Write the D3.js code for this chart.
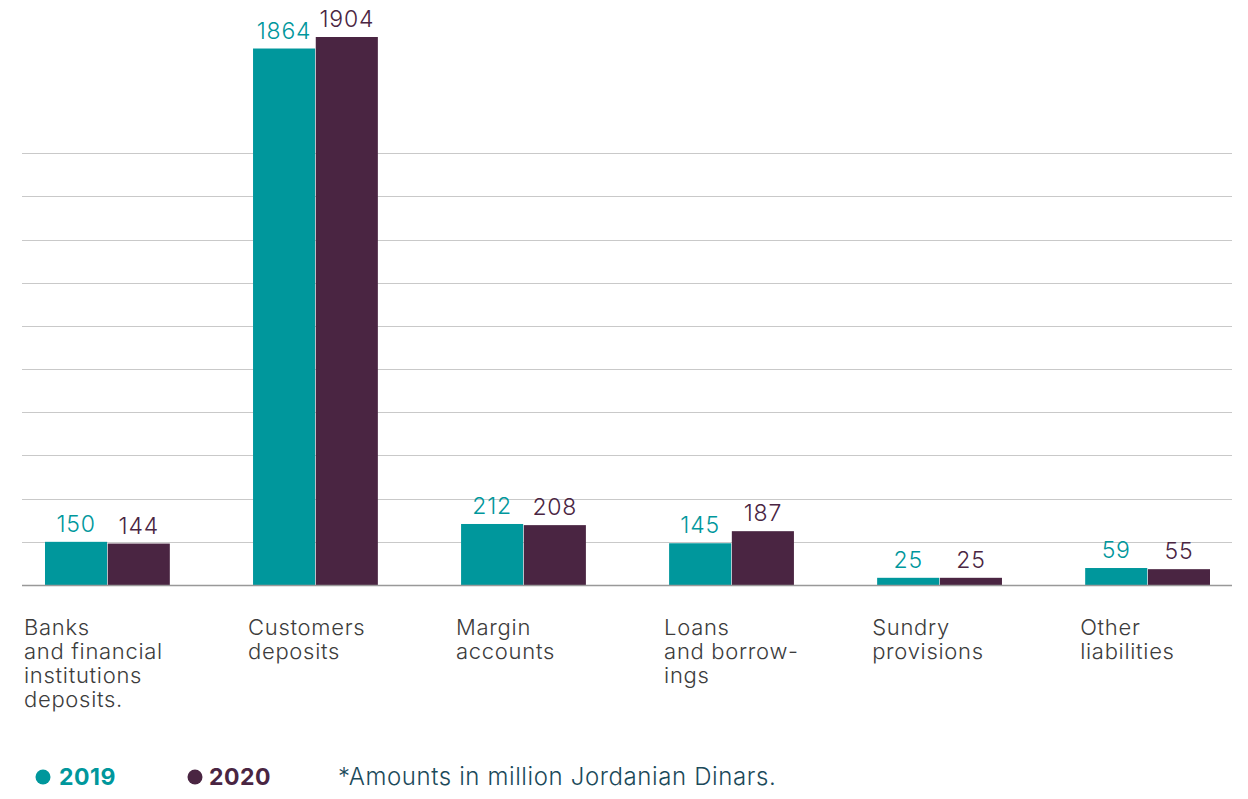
<!DOCTYPE html>
<html>
<head>
<meta charset="utf-8">
<script src="https://cdn.jsdelivr.net/npm/d3@7"></script>
<style>
  html, body { margin: 0; padding: 0; background: #fff; }
  svg { display: block; font-family: Inter, "Noto Sans", sans-serif; }
</style>
</head>
<body>
<svg id="chart" width="1248" height="799"></svg>
<script>
// Liabilities by category, million JOD
const categories = [
  ["Banks", "and financial", "institutions", "deposits."],
  ["Customers", "deposits"],
  ["Margin", "accounts"],
  ["Loans", "and borrow-", "ings"],
  ["Sundry", "provisions"],
  ["Other", "liabilities"]
];
const values2019 = [150, 1864, 212, 145, 25, 59];
const values2020 = [144, 1904, 208, 187, 25, 55];
const seriesNames = ["2019", "2020"];
const gridValues = [150, 300, 450, 600, 750, 900, 1050, 1200, 1350, 1500];
const footnote = "*Amounts in million Jordanian Dinars.";

const colors = { "2019": "#00979c", "2020": "#4a2542" };
const labelColor = "#3c3c3c";
const noteColor = "#1c4a5a";

const svg = d3.select("#chart");
const plotLeft = 22, plotRight = 1232;
const baseY = 585, topY = 37;

const idx = d3.range(categories.length);
const x0 = d3.scaleBand().domain(idx).range([45, 1210]).paddingInner(0.4).paddingOuter(0);
const x1 = d3.scaleBand().domain(seriesNames).range([0, x0.bandwidth()]).paddingInner(0.01);
const y = d3.scaleLinear()
  .domain([0, d3.max(values2020.concat(values2019))])
  .range([baseY, topY]);

// gridlines
svg.append("g")
  .selectAll("line")
  .data(gridValues)
  .join("line")
  .attr("x1", plotLeft).attr("x2", plotRight)
  .attr("y1", d => Math.round(y(d)) + 0.5).attr("y2", d => Math.round(y(d)) + 0.5)
  .attr("stroke", "#c9c9c9").attr("stroke-width", 1);

const rows = idx.map(i => ({ i, vals: [
  { key: "2019", v: values2019[i] },
  { key: "2020", v: values2020[i] }
]}));

const groups = svg.append("g")
  .selectAll("g")
  .data(rows)
  .join("g")
  .attr("transform", d => `translate(${x0(d.i)},0)`);

groups.selectAll("rect")
  .data(d => d.vals)
  .join("rect")
  .attr("x", d => x1(d.key))
  .attr("width", x1.bandwidth())
  .attr("y", d => y(d.v))
  .attr("height", d => baseY - y(d.v))
  .attr("fill", d => colors[d.key]);

groups.selectAll("text.val")
  .data(d => d.vals)
  .join("text")
  .attr("class", "val")
  .attr("x", d => x1(d.key) + x1.bandwidth() / 2)
  .attr("y", d => y(d.v) - 10)
  .attr("text-anchor", "middle")
  .attr("font-size", 23)
  .attr("font-weight", 300)
  .attr("letter-spacing", 0.8)
  .attr("fill", d => colors[d.key])
  .text(d => d.v);

// baseline
svg.append("line")
  .attr("x1", plotLeft).attr("x2", plotRight)
  .attr("y1", baseY + 0.5).attr("y2", baseY + 0.5)
  .attr("stroke", "#999").attr("stroke-width", 1.6);

// category labels
const labelX = i => i === 0 ? plotLeft + 2 : x0(i) - 5;
svg.append("g")
  .selectAll("text")
  .data(rows)
  .join("text")
  .attr("x", d => labelX(d.i))
  .attr("y", 635)
  .attr("font-size", 22)
  .attr("font-weight", 300)
  .attr("letter-spacing", 0.7)
  .attr("fill", labelColor)
  .selectAll("tspan")
  .data(d => categories[d.i].map(line => ({ line, x: labelX(d.i) })))
  .join("tspan")
  .attr("x", d => d.x)
  .attr("dy", (d, k) => k === 0 ? 0 : 24)
  .text(d => d.line);

// legend
const legend = svg.append("g");
const legendItems = [
  { key: "2019", cx: 43, tx: 59 },
  { key: "2020", cx: 195, tx: 209 }
];
legend.selectAll("circle")
  .data(legendItems)
  .join("circle")
  .attr("cx", d => d.cx).attr("cy", 777).attr("r", 7.5)
  .attr("fill", d => colors[d.key]);
legend.selectAll("text")
  .data(legendItems)
  .join("text")
  .attr("x", d => d.tx).attr("y", 785)
  .attr("font-size", 23).attr("font-weight", 700)
  .attr("letter-spacing", 0.5)
  .attr("fill", d => colors[d.key])
  .text(d => d.key);

svg.append("text")
  .attr("x", 338).attr("y", 785)
  .attr("font-size", 24).attr("font-weight", 300)
  .attr("letter-spacing", 0.6)
  .attr("fill", noteColor)
  .text(footnote);
</script>
</body>
</html>
